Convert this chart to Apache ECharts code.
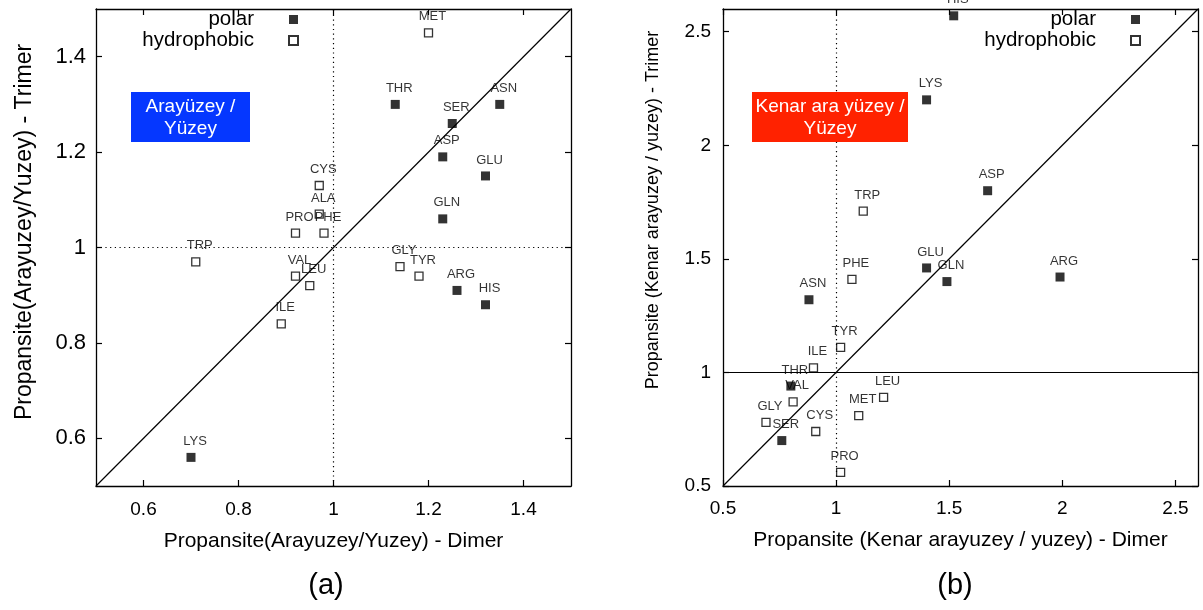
<!DOCTYPE html>
<html>
<head>
<meta charset="utf-8">
<script src="https://cdn.jsdelivr.net/npm/echarts@6/dist/echarts.min.js"></script>
<style>
html,body{margin:0;padding:0;background:#fff;}
#chart{width:1203px;height:610px;}
</style>
</head>
<body>
<div id="chart"></div>
<script>
// ---------- Data: panel (a) Arayüzey / Yüzey ----------
const aPolarNames = ['THR','ASN','SER','ASP','GLU','GLN','ARG','HIS','LYS'];
const aPolarX     = [1.13, 1.35, 1.25, 1.23, 1.32, 1.23, 1.26, 1.32, 0.70];
const aPolarY     = [1.30, 1.30, 1.26, 1.19, 1.15, 1.06, 0.91, 0.88, 0.56];
const aHydroNames = ['MET','CYS','ALA','PRO','PHE','TRP','VAL','LEU','ILE','GLY','TYR'];
const aHydroX     = [1.20, 0.97, 0.97, 0.92, 0.98, 0.71, 0.92, 0.95, 0.89, 1.14, 1.18];
const aHydroY     = [1.45, 1.13, 1.07, 1.03, 1.03, 0.97, 0.94, 0.92, 0.84, 0.96, 0.94];
const aTicks      = [0.6, 0.8, 1, 1.2, 1.4];
const aRange      = [0.5, 1.5];

// ---------- Data: panel (b) Kenar ara yüzey / Yüzey ----------
const bPolarNames = ['HIS','LYS','ASP','GLU','GLN','ARG','ASN','THR','SER'];
const bPolarX     = [1.52, 1.40, 1.67, 1.40, 1.49, 1.99, 0.88, 0.80, 0.76];
const bPolarY     = [2.57, 2.20, 1.80, 1.46, 1.40, 1.42, 1.32, 0.94, 0.70];
const bHydroNames = ['TRP','PHE','TYR','ILE','VAL','GLY','CYS','MET','LEU','PRO'];
const bHydroX     = [1.12, 1.07, 1.02, 0.90, 0.81, 0.69, 0.91, 1.10, 1.21, 1.02];
const bHydroY     = [1.71, 1.41, 1.11, 1.02, 0.87, 0.78, 0.74, 0.81, 0.89, 0.56];
const bTicks      = [0.5, 1, 1.5, 2, 2.5];
const bRange      = [0.5, 2.6];

const seriesNames = ['polar', 'hydrophobic'];
const FONT = '"Liberation Sans", Arial, Helvetica, sans-serif';

function pts(names, xs, ys) {
  return names.map((n, i) => ({ name: n, value: [xs[i], ys[i]] }));
}

const pointLabel = {
  show: true, position: 'top', distance: 5, offset: [4, 0],
  formatter: p => p.name, fontSize: 13, color: '#000', fontFamily: FONT
};

function polarSeries(grid, data) {
  return {
    name: seriesNames[0], type: 'scatter', xAxisIndex: grid * 2, yAxisIndex: grid * 2,
    symbol: 'rect', symbolSize: 9, data: data, z: 4,
    itemStyle: { color: '#000' }, label: pointLabel, emphasis: { disabled: true }
  };
}
function hydroSeries(grid, data) {
  return {
    name: seriesNames[1], type: 'scatter', xAxisIndex: grid * 2, yAxisIndex: grid * 2,
    symbol: 'rect', symbolSize: 8, data: data, z: 3,
    itemStyle: { color: '#fff', borderColor: '#000', borderWidth: 1.3 },
    label: pointLabel, emphasis: { disabled: true }
  };
}
function diagSeries(grid, range, hSolid) {
  return {
    type: 'line', xAxisIndex: grid * 2, yAxisIndex: grid * 2, silent: true,
    data: [[range[0], range[0]], [range[1], range[1]]], showSymbol: false, z: 2,
    lineStyle: { color: '#000', width: 1.2 },
    markLine: {
      silent: true, symbol: 'none', label: { show: false },
      data: [
        { xAxis: 1, lineStyle: { type: [1.2, 3.5], color: '#000', width: 1.2 } },
        { yAxis: 1, lineStyle: hSolid ? { type: 'solid', color: '#000', width: 1.2 }
                                      : { type: [1.2, 3.5], color: '#000', width: 1.2 } }
      ]
    }
  };
}

function xAxes(grid, range, ticks, name, labelMargin, nameGap) {
  const common = {
    type: 'value', gridIndex: grid, min: range[0], max: range[1],
    splitLine: { show: false },
    axisLine: { show: true, onZero: false, lineStyle: { color: '#000', width: 1.3 } },
    axisTick: { show: true, inside: true, length: 6, customValues: ticks, lineStyle: { color: '#000', width: 1.2 } }
  };
  return [
    Object.assign({}, common, {
      position: 'bottom', name: name, nameLocation: 'middle', nameGap: nameGap,
      nameTextStyle: { fontSize: 21, color: '#000', fontFamily: FONT },
      axisLabel: { show: true, customValues: ticks, margin: labelMargin, fontSize: 19, color: '#000', fontFamily: FONT }
    }),
    Object.assign({}, common, { position: 'top', axisLabel: { show: false } })
  ];
}
function yAxes(grid, range, ticks, name, labelSize, labelMargin, nameSize, nameGap, namePadLeft) {
  const common = {
    type: 'value', gridIndex: grid, min: range[0], max: range[1],
    splitLine: { show: false },
    axisLine: { show: true, onZero: false, lineStyle: { color: '#000', width: 1.3 } },
    axisTick: { show: true, inside: true, length: 6, customValues: ticks, lineStyle: { color: '#000', width: 1.2 } }
  };
  return [
    Object.assign({}, common, {
      position: 'left', name: name, nameLocation: 'middle', nameGap: nameGap,
      nameTextStyle: { fontSize: nameSize, color: '#000', fontFamily: FONT, padding: [0, 0, 0, namePadLeft] },
      axisLabel: { show: true, customValues: ticks, margin: labelMargin, fontSize: labelSize, color: '#000', fontFamily: FONT }
    }),
    Object.assign({}, common, { position: 'right', axisLabel: { show: false } })
  ];
}

const legendCommon = {
  orient: 'vertical', align: 'right', padding: 0, itemGap: 0,
  itemWidth: 9, itemHeight: 9, selectedMode: false, data: seriesNames,
  textStyle: { fontSize: 20.5, color: '#000', fontFamily: FONT, lineHeight: 21, padding: [0, 30, 0, 0] }
};

const option = {
  backgroundColor: '#fff',
  animation: false,
  grid: [
    { left: 96, top: 9, width: 475, height: 477 },
    { left: 723, top: 9, width: 475, height: 477 }
  ],
  xAxis: [
    ...xAxes(0, aRange, aTicks, 'Propansite(Arayuzey/Yuzey) - Dimer', 14, 45),
    ...xAxes(1, bRange, bTicks, 'Propansite (Kenar arayuzey / yuzey) - Dimer', 13, 44)
  ],
  yAxis: [
    ...yAxes(0, aRange, aTicks, 'Propansite(Arayuzey/Yuzey) - Trimer', 22, 10, 23, 60, 31),
    ...yAxes(1, bRange, bTicks, 'Propansite (Kenar arayuzey / yuzey) - Trimer', 19, 12, 18, 61, 75)
  ],
  legend: [
    Object.assign({}, legendCommon, { right: 904, top: 9 }),
    Object.assign({}, legendCommon, { right: 62, top: 9 })
  ],
  graphic: [
    { type: 'rect', left: 131, top: 92, shape: { width: 119, height: 50 }, style: { fill: '#0537ff' }, z: 10 },
    { type: 'text', x: 190.5, y: 118, z: 11,
      style: { text: 'Arayüzey /\nYüzey', fontSize: 19, lineHeight: 22, fill: '#fff', fontFamily: FONT, align: 'center', verticalAlign: 'middle' } },
    { type: 'rect', left: 752, top: 92, shape: { width: 156, height: 50 }, style: { fill: '#ff2200' }, z: 10 },
    { type: 'text', x: 830, y: 118, z: 11,
      style: { text: 'Kenar ara yüzey /\nYüzey', fontSize: 19, lineHeight: 22, fill: '#fff', fontFamily: FONT, align: 'center', verticalAlign: 'middle' } },
    { type: 'text', x: 326, y: 586,
      style: { text: '(a)', fontSize: 29, fill: '#000', fontFamily: FONT, align: 'center', verticalAlign: 'middle' } },
    { type: 'text', x: 955, y: 586,
      style: { text: '(b)', fontSize: 29, fill: '#000', fontFamily: FONT, align: 'center', verticalAlign: 'middle' } }
  ],
  series: [
    diagSeries(0, aRange, false),
    hydroSeries(0, pts(aHydroNames, aHydroX, aHydroY)),
    polarSeries(0, pts(aPolarNames, aPolarX, aPolarY)),
    diagSeries(1, bRange, true),
    hydroSeries(1, pts(bHydroNames, bHydroX, bHydroY)),
    polarSeries(1, pts(bPolarNames, bPolarX, bPolarY))
  ]
};

const chart = echarts.init(document.getElementById('chart'), null, { renderer: 'canvas' });
chart.setOption(option);
</script>
</body>
</html>
